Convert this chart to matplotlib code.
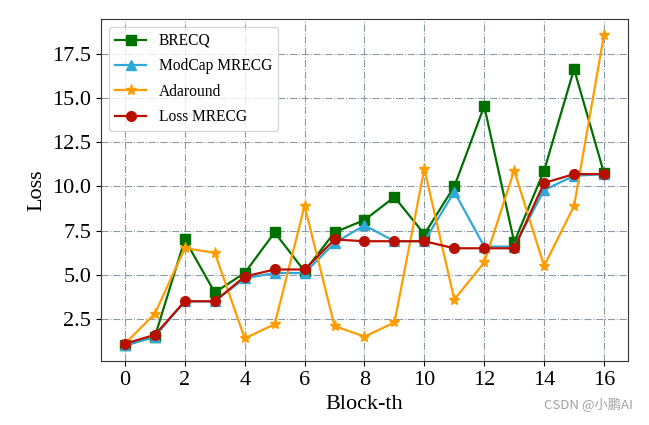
import matplotlib
matplotlib.use('Agg')
import matplotlib.pyplot as plt
from matplotlib.ticker import MultipleLocator

# Block index and per-block losses
blocks = list(range(17))
brecq = [1.0, 1.5, 7.0, 4.0, 5.1, 7.4, 5.2, 7.4, 8.1, 9.4, 7.3, 10.0, 14.55, 6.85, 10.9, 16.65, 10.75]
modcap = [1.0, 1.5, 3.5, 3.5, 4.8, 5.1, 5.1, 6.8, 7.8, 6.9, 6.9, 9.7, 6.6, 6.6, 9.8, 10.6, 10.7]
adaround = [1.1, 2.8, 6.5, 6.25, 1.4, 2.2, 8.9, 2.1, 1.5, 2.3, 11.0, 3.6, 5.7, 10.9, 5.5, 8.9, 18.6]
loss_mrecg = [1.1, 1.6, 3.5, 3.5, 4.9, 5.3, 5.3, 7.0, 6.9, 6.9, 6.9, 6.5, 6.5, 6.5, 10.2, 10.7, 10.7]

plt.rcParams['font.family'] = ['Liberation Serif', 'DejaVu Serif']
plt.rcParams['mathtext.fontset'] = 'stix'

fig = plt.figure(figsize=(6.49, 4.25), dpi=100)
ax = fig.add_axes([0.1556, 0.1506, 0.812, 0.8047])

ax.plot(blocks, brecq, color='#007000', marker='s', markersize=7, linewidth=1.6, label='BRECQ')
ax.plot(blocks, modcap, color='#2ea8d6', marker='^', markersize=7, linewidth=1.6, label='ModCap MRECG')
ax.plot(blocks, adaround, color='#ff9d00', marker='*', markersize=8, linewidth=1.6, label='Adaround')
ax.plot(blocks, loss_mrecg, color='#b81000', marker='o', markersize=7, linewidth=1.6, label='Loss MRECG')

ax.set_xticks(range(0, 17, 2))
ax.yaxis.set_major_locator(MultipleLocator(2.5))
ax.grid(True, linestyle='-.', color='#8a9aa6', linewidth=0.8)
ax.tick_params(labelsize=16)
ax.set_xlabel('Block-th', fontsize=16)
ax.set_ylabel('Loss', fontsize=16)
for s in ax.spines.values():
    s.set_color('#333333')

ax.legend(loc='upper left', fontsize=11.2, labelspacing=0.6, framealpha=0.8)

fig.text(0.975, 0.03, 'CSDN @小鹏AI', ha='right', va='bottom', fontsize=9.5,
         color='#a0a0a0', family=['Noto Sans CJK SC', 'DejaVu Sans'])

fig.savefig('out.png', dpi=100)
